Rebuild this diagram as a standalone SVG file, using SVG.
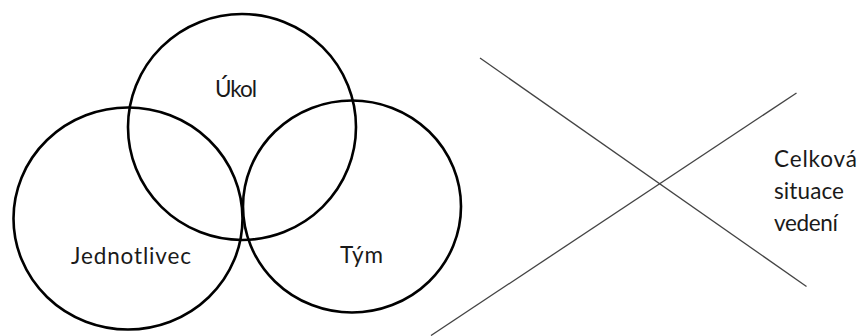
<svg xmlns="http://www.w3.org/2000/svg" width="861" height="336" viewBox="0 0 861 336">
<style>
.c{fill:none;stroke:#000;stroke-width:2.6}
.l{stroke:#444;stroke-width:1.3}
text{font-family:"Lato","Open Sans","Liberation Sans",sans-serif;font-size:22.5px;fill:#1a1a1a}
</style>
<rect width="861" height="336" fill="#fff"/>
<g id="ukol"><ellipse class="c" cx="242" cy="127" rx="114" ry="113"/><text x="215" y="97" textLength="42">Úkol</text></g>
<g id="jednotlivec"><ellipse class="c" cx="128" cy="218.5" rx="114.5" ry="111"/><text x="71" y="264" textLength="120">Jednotlivec</text></g>
<g id="tym"><ellipse class="c" cx="352" cy="206.5" rx="109" ry="106"/><text x="340" y="263" textLength="43">Tým</text></g>
<g id="connectors"><line class="l" x1="480" y1="58" x2="806.5" y2="286.5"/><line class="l" x1="431" y1="335.5" x2="796.5" y2="93"/></g>
<g id="situace"><text x="774" y="167" textLength="83">Celková</text><text x="774" y="199" textLength="70">situace</text><text x="774" y="231" textLength="64">vedení</text></g>
</svg>
